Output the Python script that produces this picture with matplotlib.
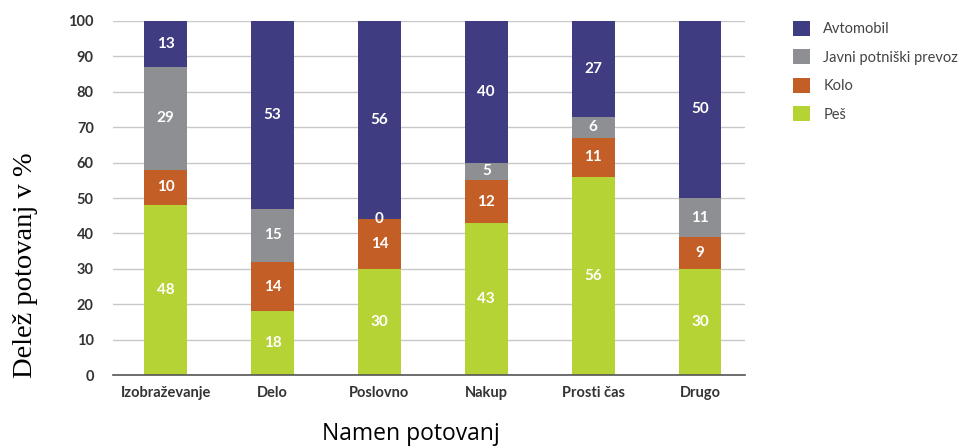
import matplotlib
matplotlib.use("Agg")
import matplotlib.pyplot as plt
import numpy as np

categories = ["Izobraževanje", "Delo", "Poslovno", "Nakup", "Prosti čas", "Drugo"]
series_names = ["Peš", "Kolo", "Javni potniški prevoz", "Avtomobil"]
pes = [48, 18, 30, 43, 56, 30]
kolo = [10, 14, 14, 12, 11, 9]
javni = [29, 15, 0, 5, 6, 11]
avto = [13, 53, 56, 40, 27, 50]
yticks = [0, 10, 20, 30, 40, 50, 60, 70, 80, 90, 100]

COLORS = ["#B5D334", "#C45E27", "#8E8F93", "#3F3C82"]

plt.rcParams.update({"font.family": ["Lato", "DejaVu Sans"]})

fig = plt.figure(figsize=(9.6, 4.46), dpi=100)
ax = fig.add_axes([0.118, 0.159, 0.658, 0.794])

x = np.arange(len(categories))
bottom = np.zeros(len(categories))
handles = []
for name, vals, color in zip(series_names, [pes, kolo, javni, avto], COLORS):
    vals = np.asarray(vals, dtype=float)
    bars = ax.bar(x, vals, 0.4, bottom=bottom, color=color, zorder=2, label=name)
    handles.append(bars)
    for xi, b, v in zip(x, bottom, vals):
        ax.text(xi, b + v / 2, f"{int(v)}", ha="center", va="center", color="white",
                fontsize=11, fontweight="bold", zorder=3)
    bottom += vals

ax.set_xlim(-0.49, 5.42)
ax.set_ylim(0, 100)
ax.set_yticks(yticks)
ax.set_xticks(x, categories)
ax.grid(axis="y", color="#C8C8C8", linewidth=1.0, zorder=0)
for side in ["top", "right", "left"]:
    ax.spines[side].set_visible(False)
ax.spines["bottom"].set_color("#555555")
ax.spines["bottom"].set_linewidth(1.2)
ax.tick_params(axis="both", length=0, labelsize=10.5, labelcolor="#333333")
ax.tick_params(axis="x", pad=8)
ax.tick_params(axis="y", pad=14)
for lab in ax.get_xticklabels() + ax.get_yticklabels():
    lab.set_fontweight("bold")

fig.text(0.027, 0.405, "Delež potovanj v %", rotation=90, ha="center", va="center",
         fontsize=20.5, family="Liberation Serif")
fig.text(0.428, 0.028, "Namen potovanj", ha="center", va="center", fontsize=16.5,
         family="Open Sans")

leg = fig.legend(handles[::-1], series_names[::-1], loc="upper left",
                 bbox_to_anchor=(0.812, 0.983), frameon=False, fontsize=10.5,
                 handlelength=1.2, handleheight=1.2, labelspacing=0.9, handletextpad=0.9)
for t in leg.get_texts():
    t.set_color("#444444")

fig.savefig("out.png", dpi=100)
